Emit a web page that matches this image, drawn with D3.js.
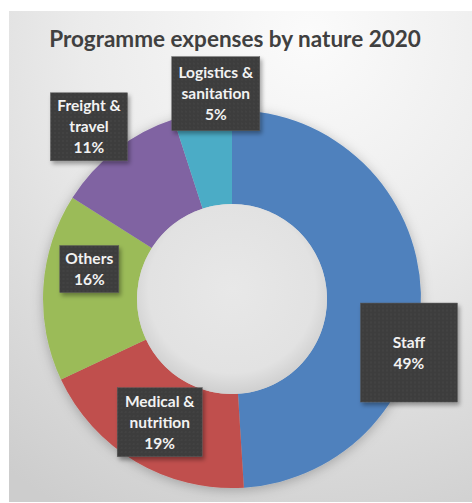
<!DOCTYPE html>
<html>
<head>
<meta charset="utf-8">
<script src="https://cdn.jsdelivr.net/npm/d3@7"></script>
<style>
  body { margin: 0; background: #fff; }
  svg { display: block; }
</style>
</head>
<body>
<div id="chart"></div>
<script>
// donut data
const categories = ["Staff", "Medical & nutrition", "Others", "Freight & travel", "Logistics & sanitation"];
const values = [49, 19, 16, 11, 5];
const labelLines = [["Staff"], ["Medical &", "nutrition"], ["Others"], ["Freight &", "travel"], ["Logistics &", "sanitation"]];
const colors = ["#4f81bd", "#c0504d", "#9bbb59", "#8064a2", "#4bacc6"];

// label boxes were dragged by hand in the original: nudge from ring centroid + box size
const labelNudge = [[35, 58], [0, 1], [-1, -21], [-56, -60], [6, -65]];
const labelSize = [[97, 99], [85, 69], [59, 47], [77, 68], [88, 74]];

const width = 472, height = 503;
const cx = 232, cy = 299, outerR = 189, innerR = 95;

const svg = d3.select("#chart").append("svg")
  .attr("width", width)
  .attr("height", height);

const defs = svg.append("defs");

const bg = defs.append("radialGradient").attr("id", "bg")
  .attr("cx", "65%").attr("cy", "5%").attr("r", "110%");
bg.append("stop").attr("offset", "0%").attr("stop-color", "#fbfbfb");
bg.append("stop").attr("offset", "45%").attr("stop-color", "#ebebeb");
bg.append("stop").attr("offset", "100%").attr("stop-color", "#cdcdcd");

const hole = defs.append("radialGradient").attr("id", "hole")
  .attr("cx", "50%").attr("cy", "45%").attr("r", "55%");
hole.append("stop").attr("offset", "0%").attr("stop-color", "#e8e8e8");
hole.append("stop").attr("offset", "80%").attr("stop-color", "#e2e2e2");
hole.append("stop").attr("offset", "100%").attr("stop-color", "#cfcfcf");

const dots = defs.append("pattern").attr("id", "dots")
  .attr("width", 4).attr("height", 4).attr("patternUnits", "userSpaceOnUse");
dots.append("rect").attr("width", 4).attr("height", 4).attr("fill", "#3d3d3d");
dots.append("circle").attr("cx", 2).attr("cy", 2).attr("r", 0.7).attr("fill", "#4d4d4d");

const glow = defs.append("filter").attr("id", "glow")
  .attr("x", "-20%").attr("y", "-20%").attr("width", "140%").attr("height", "140%");
glow.append("feDropShadow").attr("dx", 0).attr("dy", 2).attr("stdDeviation", 6)
  .attr("flood-color", "#000").attr("flood-opacity", 0.25);

const shadow = defs.append("filter").attr("id", "shadow")
  .attr("x", "-20%").attr("y", "-20%").attr("width", "140%").attr("height", "140%");
shadow.append("feDropShadow").attr("dx", 2).attr("dy", 3).attr("stdDeviation", 2)
  .attr("flood-color", "#000").attr("flood-opacity", 0.35);

// chart area
svg.append("rect")
  .attr("x", 9).attr("y", 11)
  .attr("width", width - 9).attr("height", 491)
  .attr("fill", "url(#bg)");

svg.append("text")
  .attr("x", 235).attr("y", 47)
  .attr("text-anchor", "middle")
  .attr("font-family", "Lato, 'Open Sans', sans-serif")
  .attr("font-weight", 700)
  .attr("font-size", 22.5)
  .attr("fill", "#404040")
  .text("Programme expenses by nature 2020");

const data = categories.map((c, i) => ({ title: c, value: values[i], lines: labelLines[i], i: i }));

const pie = d3.pie().sort(null).value(d => d.value);
const arcs = pie(data);

const arc = d3.arc().innerRadius(innerR).outerRadius(outerR);

const g = svg.append("g").attr("transform", `translate(${cx},${cy})`);

const ring = g.append("g").attr("filter", "url(#glow)");
ring.selectAll("path")
  .data(arcs)
  .enter()
  .append("path")
  .attr("d", arc)
  .attr("fill", d => colors[d.data.i]);

g.append("circle")
  .attr("r", innerR)
  .attr("fill", "url(#hole)");

// labels
const total = d3.sum(values);
const lab = g.selectAll("g.lab")
  .data(arcs)
  .enter()
  .append("g")
  .attr("class", "lab")
  .attr("transform", d => {
    const c = arc.centroid(d);
    const n = labelNudge[d.data.i];
    return `translate(${c[0] + n[0]},${c[1] + n[1]})`;
  });

lab.append("rect")
  .attr("x", d => -labelSize[d.data.i][0] / 2)
  .attr("y", d => -labelSize[d.data.i][1] / 2)
  .attr("width", d => labelSize[d.data.i][0])
  .attr("height", d => labelSize[d.data.i][1])
  .attr("fill", "url(#dots)")
  .attr("stroke", "#5a5a5a")
  .attr("stroke-width", 0.5)
  .attr("filter", "url(#shadow)");

const lineH = 21;
lab.each(function(d) {
  const lines = d.data.lines.concat([Math.round(d.value / total * 100) + "%"]);
  const t = d3.select(this).append("text")
    .attr("text-anchor", "middle")
    .attr("font-family", "Lato, 'Open Sans', sans-serif")
    .attr("font-weight", 700)
    .attr("font-size", 15.5)
    .attr("fill", "#f2f2f2");
  lines.forEach((s, k) => {
    t.append("tspan")
      .attr("x", 0)
      .attr("y", (k - (lines.length - 1) / 2) * lineH + 5.5)
      .text(s);
  });
});
</script>
</body>
</html>
